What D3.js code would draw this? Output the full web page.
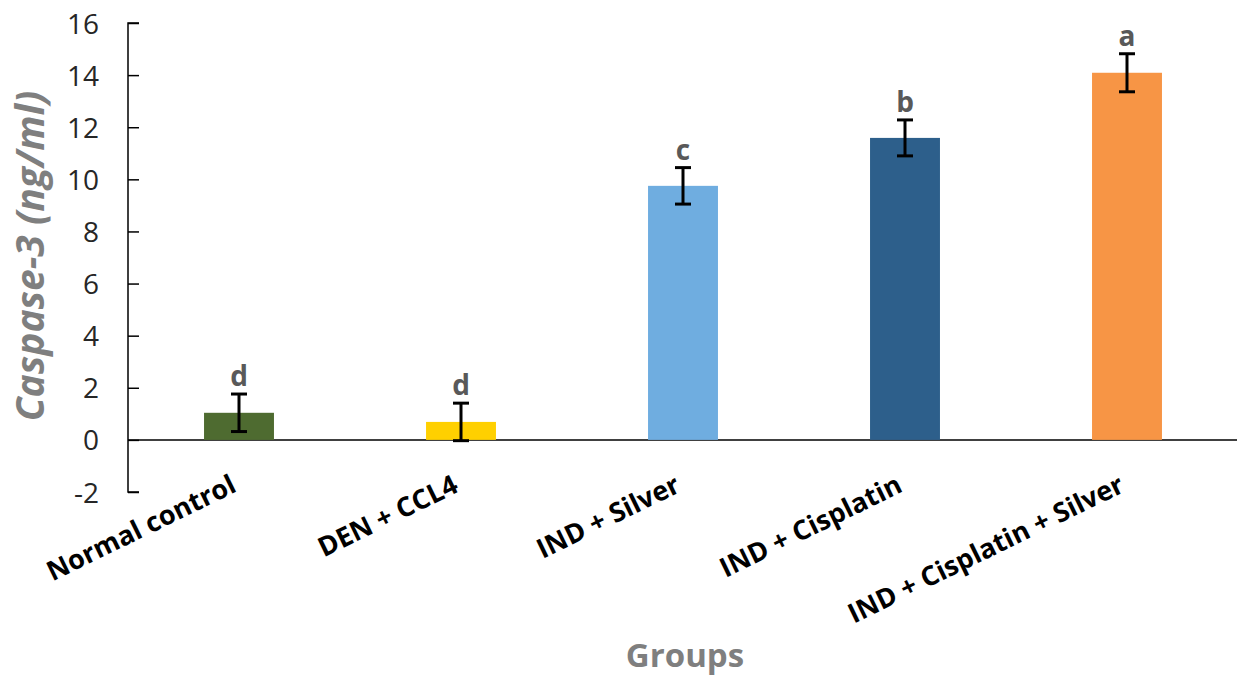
<!DOCTYPE html>
<html>
<head>
<meta charset="utf-8">
<script src="https://cdn.jsdelivr.net/npm/d3@7"></script>
<style>
  body { margin: 0; background: #fff; }
  text { font-family: "Open Sans", "Liberation Sans", sans-serif; }
</style>
</head>
<body>
<div id="chart"></div>
<script>
// data
var groups = ["Normal control", "DEN + CCL4", "IND + Silver", "IND + Cisplatin", "IND + Cisplatin + Silver"];
var means = [1.04, 0.69, 9.75, 11.59, 14.09];
var errors = [0.72, 0.72, 0.70, 0.69, 0.73];
var letters = ["d", "d", "c", "b", "a"];
var colors = ["#4e6b30", "#ffd000", "#6fade0", "#2d5f8b", "#f79545"];
var yTicks = [-2, 0, 2, 4, 6, 8, 10, 12, 14, 16];

var W = 1237, H = 677;
var margin = { left: 128, right: -1, top: 23, bottom: 185 };
var width = W - margin.left - margin.right,
    height = H - margin.top - margin.bottom;

var svg = d3.select("#chart")
  .append("svg")
    .attr("width", W)
    .attr("height", H);

var g = svg.append("g")
    .attr("transform", "translate(" + margin.left + "," + margin.top + ")");

// Scales
var x = d3.scaleBand()
    .domain(groups)
    .range([0, width])
    .padding(0);
var y = d3.scaleLinear()
    .domain([-2, 16])
    .range([height, 0]);
var barW = x.bandwidth() * 0.315;

// Y Axis (ticks point inward like the original)
var yAxisCall = d3.axisRight(y)
    .tickValues(yTicks)
    .tickSize(11)
    .tickFormat(function(d){ return "" + d; });
var yAxis = g.append("g")
    .attr("class", "y axis")
    .call(yAxisCall);
yAxis.select(".domain")
    .attr("d", "M11," + y(16) + "H0V" + y(-2) + "H11")
    .attr("stroke", "#000")
    .attr("stroke-width", 1.5);
yAxis.selectAll(".tick line").attr("stroke", "#000").attr("stroke-width", 1.5);
yAxis.selectAll(".tick text")
    .attr("x", -29)
    .attr("dy", "0.36em")
    .attr("text-anchor", "end")
    .attr("font-size", "28px")
    .attr("fill", "#262626");

// zero line
g.append("line")
    .attr("x1", 0)
    .attr("x2", width)
    .attr("y1", y(0))
    .attr("y2", y(0))
    .attr("stroke", "#000")
    .attr("stroke-width", 1.5);

// Bars
g.selectAll("rect.bar")
    .data(groups)
    .enter()
    .append("rect")
    .attr("class", "bar")
    .attr("x", function(d){ return x(d) + x.bandwidth() / 2 - barW / 2; })
    .attr("width", barW)
    .attr("y", function(d, i){ return y(means[i]); })
    .attr("height", function(d, i){ return y(0) - y(means[i]); })
    .attr("fill", function(d, i){ return colors[i]; });

// Error bars
var err = g.selectAll("g.err")
    .data(groups)
    .enter()
    .append("g")
    .attr("class", "err")
    .attr("transform", function(d){ return "translate(" + (x(d) + x.bandwidth() / 2) + ",0)"; });
err.append("line")
    .attr("y1", function(d, i){ return y(means[i] + errors[i]); })
    .attr("y2", function(d, i){ return y(means[i] - errors[i]); })
    .attr("stroke", "#000").attr("stroke-width", 3);
err.append("line")
    .attr("x1", -8).attr("x2", 8)
    .attr("y1", function(d, i){ return y(means[i] + errors[i]); })
    .attr("y2", function(d, i){ return y(means[i] + errors[i]); })
    .attr("stroke", "#000").attr("stroke-width", 3);
err.append("line")
    .attr("x1", -8).attr("x2", 8)
    .attr("y1", function(d, i){ return y(means[i] - errors[i]); })
    .attr("y2", function(d, i){ return y(means[i] - errors[i]); })
    .attr("stroke", "#000").attr("stroke-width", 3);

// significance letters
err.append("text")
    .attr("y", function(d, i){ return y(means[i] + errors[i]) - 8; })
    .attr("text-anchor", "middle")
    .attr("font-size", "28px")
    .attr("font-weight", "bold")
    .attr("fill", "#595959")
    .text(function(d, i){ return letters[i]; });

// X labels (rotated)
g.selectAll("text.xlab")
    .data(groups)
    .enter()
    .append("text")
    .attr("class", "xlab")
    .attr("transform", function(d){
        return "translate(" + (x(d) + x.bandwidth() / 2 - 1) + "," + (y(-2) - 1) + ") rotate(-26)";
    })
    .attr("text-anchor", "end")
    .attr("font-size", "27px")
    .attr("font-weight", "bold")
    .attr("fill", "#000")
    .text(function(d){ return d; });

// Axis titles
svg.append("text")
    .attr("transform", "translate(44,256) rotate(-90)")
    .attr("text-anchor", "middle")
    .attr("font-size", "39px")
    .attr("font-weight", "bold")
    .attr("font-style", "italic")
    .attr("fill", "#7f7f7f")
    .text("Caspase-3 (ng/ml)");
svg.append("text")
    .attr("x", 685)
    .attr("y", 667)
    .attr("text-anchor", "middle")
    .attr("font-size", "33px")
    .attr("font-weight", "bold")
    .attr("fill", "#7f7f7f")
    .text("Groups");
</script>
</body>
</html>
